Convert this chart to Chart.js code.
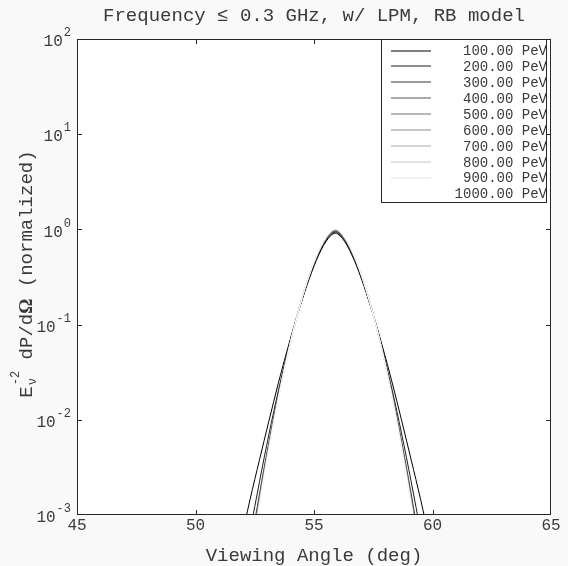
<!DOCTYPE HTML><html>
<head>
  <title>Viewing angle spectrum</title>
  <meta charset="utf-8">
  <style>
  html, body {
    margin: 0;
    padding: 0;
    background: #f9f9f9;
  }
  canvas {
    display: block;
  }
  </style>
  <script src="https://cdn.jsdelivr.net/npm/chart.js"></script>
</head>
<body>
  <canvas id="angle-chart" width="568" height="566"></canvas>
<script>
  // viewing angle samples (deg)
  var angles = [51.9, 52.3, 52.7, 53.1, 53.5, 53.9, 54.3, 54.7, 55.1, 55.5, 55.9,
                56.3, 56.7, 57.1, 57.5, 57.9, 58.3, 58.7, 59.1, 59.5, 59.9];

  var energies = ['100.00 PeV', '200.00 PeV', '300.00 PeV', '400.00 PeV', '500.00 PeV',
                  '600.00 PeV', '700.00 PeV', '800.00 PeV', '900.00 PeV', '1000.00 PeV'];

  var e100 = [0.00051, 0.00145, 0.0038, 0.00977, 0.0245, 0.0575, 0.126, 0.257, 0.473, 0.741, 0.912,
              0.741, 0.473, 0.257, 0.126, 0.0575, 0.0245, 0.00977, 0.0038, 0.00145, 0.00051];
  var e200 = [0.000186, 0.00066, 0.00224, 0.00708, 0.0204, 0.0537, 0.126, 0.266, 0.490, 0.759, 0.933,
              0.759, 0.490, 0.266, 0.126, 0.0537, 0.0204, 0.00708, 0.00224, 0.00066, 0.000186];
  var e300 = [0.0000955, 0.000423, 0.00167, 0.00589, 0.0186, 0.052, 0.128, 0.275, 0.506, 0.782, 0.955,
              0.782, 0.506, 0.275, 0.128, 0.052, 0.0186, 0.00589, 0.00167, 0.000423, 0.0000955];
  var e400 = [0.0000822, 0.000376, 0.00153, 0.00556, 0.0180, 0.0513, 0.127, 0.275, 0.509, 0.789, 0.966,
              0.789, 0.509, 0.275, 0.127, 0.0513, 0.0180, 0.00556, 0.00153, 0.000376, 0.0000822];
  var e500 = [0.0000776, 0.000359, 0.00148, 0.00543, 0.0178, 0.0511, 0.127, 0.277, 0.513, 0.796, 0.977,
              0.796, 0.513, 0.277, 0.127, 0.0511, 0.0178, 0.00543, 0.00148, 0.000359, 0.0000776];
  var e600 = [0.0000733, 0.000343, 0.00143, 0.00531, 0.0176, 0.0507, 0.127, 0.278, 0.516, 0.804, 0.986,
              0.804, 0.516, 0.278, 0.127, 0.0507, 0.0176, 0.00531, 0.00143, 0.000343, 0.0000733];
  var e700 = [0.0000692, 0.000327, 0.00138, 0.00519, 0.0174, 0.0504, 0.127, 0.279, 0.519, 0.809, 0.993,
              0.809, 0.519, 0.279, 0.127, 0.0504, 0.0174, 0.00519, 0.00138, 0.000327, 0.0000692];
  var e800 = [0.0000661, 0.000316, 0.00134, 0.0051, 0.0172, 0.0501, 0.127, 0.279, 0.521, 0.813, 1.0,
              0.813, 0.521, 0.279, 0.127, 0.0501, 0.0172, 0.0051, 0.00134, 0.000316, 0.0000661];
  var e900 = [0.0000638, 0.000308, 0.00131, 0.00501, 0.0170, 0.0499, 0.126, 0.280, 0.524, 0.818, 1.007,
              0.818, 0.524, 0.280, 0.126, 0.0499, 0.0170, 0.00501, 0.00131, 0.000308, 0.0000638];
  var e1000 = [0.0000617, 0.000302, 0.00129, 0.00492, 0.0168, 0.0495, 0.126, 0.280, 0.525, 0.822, 1.012,
               0.822, 0.525, 0.280, 0.126, 0.0495, 0.0168, 0.00492, 0.00129, 0.000302, 0.0000617];

  var xTicks = [50, 55, 60];
  var xTickLabels = [45, 50, 55, 60, 65];
  var yExps = [-3, -2, -1, 0, 1, 2];

  var series = [e100, e200, e300, e400, e500, e600, e700, e800, e900, e1000];
  var greys = [0, 28, 57, 85, 113, 142, 170, 198, 227, 255];

  var MONO = '"Liberation Mono", "Courier New", monospace';
  var INK = '#3a3a3a';

  var datasets = series.map(function (vals, i) {
    var g = greys[i];
    return {
      label: energies[i],
      data: vals.map(function (v, j) { return {x: angles[j], y: v}; }),
      borderColor: 'rgb(' + g + ',' + g + ',' + g + ')',
      borderWidth: 1,
      pointRadius: 0,
      fill: false,
      cubicInterpolationMode: 'monotone',
      order: series.length - 1 - i
    };
  });

  function drawYTitle(ctx) {
    var parts = [
      {t: 'E', f: '19px ' + MONO},
      {sub: 'ν', sup: '-2', f: '12px ' + MONO},
      {t: ' dP/d', f: '19px ' + MONO},
      {t: 'Ω', f: 'bold 19px "Liberation Serif", serif'},
      {t: ' (normalized)', f: '19px ' + MONO}
    ];
    var total = 0;
    parts.forEach(function (p) {
      ctx.font = p.f;
      if (p.t) {
        p.w = ctx.measureText(p.t).width;
      } else {
        p.w = Math.max(ctx.measureText(p.sub).width, ctx.measureText(p.sup).width) + 1;
      }
      total += p.w;
    });
    ctx.save();
    ctx.translate(32, 274);
    ctx.rotate(-Math.PI / 2);
    ctx.fillStyle = INK;
    ctx.textBaseline = 'alphabetic';
    ctx.textAlign = 'left';
    var x = -total / 2;
    parts.forEach(function (p) {
      ctx.font = p.f;
      if (p.t) {
        ctx.fillText(p.t, x, 0);
      } else {
        ctx.fillText(p.sub, x + 1, 4);
        ctx.fillText(p.sup, x + 1, -13);
      }
      x += p.w;
    });
    ctx.restore();
  }

  var decor = {
    id: 'decor',
    beforeDraw: function (chart) {
      var ctx = chart.ctx, a = chart.chartArea;
      ctx.save();
      ctx.fillStyle = '#f9f9f9';
      ctx.fillRect(0, 0, chart.width, chart.height);
      ctx.fillStyle = '#ffffff';
      ctx.fillRect(a.left, a.top, a.right - a.left, a.bottom - a.top);
      ctx.restore();
    },
    afterDraw: function (chart) {
      var ctx = chart.ctx, a = chart.chartArea;
      var xs = chart.scales.x, ys = chart.scales.y;
      ctx.save();
      ctx.strokeStyle = '#262626';
      ctx.lineWidth = 1;

      // inward ticks
      ctx.beginPath();
      xTicks.forEach(function (v) {
        var px = Math.round(xs.getPixelForValue(v)) + 0.5;
        ctx.moveTo(px, a.bottom); ctx.lineTo(px, a.bottom - 5);
        ctx.moveTo(px, a.top); ctx.lineTo(px, a.top + 5);
      });
      yExps.forEach(function (e) {
        if (e === yExps[0] || e === yExps[yExps.length - 1]) return;
        var py = Math.round(ys.getPixelForValue(Math.pow(10, e))) + 0.5;
        ctx.moveTo(a.left, py); ctx.lineTo(a.left + 5, py);
        ctx.moveTo(a.right, py); ctx.lineTo(a.right - 5, py);
      });
      ctx.stroke();

      // legend box
      var lx = 381, ly = 39, lw = 165, lh = 163;
      ctx.fillStyle = '#ffffff';
      ctx.fillRect(lx, ly, lw, lh);
      ctx.strokeRect(lx + 0.5, ly + 0.5, lw, lh);
      ctx.font = '14px ' + MONO;
      ctx.textAlign = 'right';
      ctx.textBaseline = 'middle';
      chart.data.datasets.forEach(function (ds, i) {
        var ry = 50.5 + i * 15.9;
        ctx.strokeStyle = ds.borderColor;
        ctx.beginPath();
        ctx.moveTo(391, Math.round(ry));
        ctx.lineTo(431, Math.round(ry));
        ctx.stroke();
        ctx.fillStyle = INK;
        ctx.fillText(ds.label, 547, ry + 1);
      });

      // frame
      ctx.strokeStyle = '#262626';
      ctx.strokeRect(a.left + 0.5, a.top + 0.5, a.right - a.left - 1, a.bottom - a.top - 1);

      // x tick labels
      ctx.fillStyle = INK;
      ctx.font = '16px ' + MONO;
      ctx.textAlign = 'center';
      ctx.textBaseline = 'middle';
      xTickLabels.forEach(function (v) {
        ctx.fillText(String(v), xs.getPixelForValue(v), 526);
      });

      // y tick labels 10^n
      yExps.forEach(function (e) {
        var py = ys.getPixelForValue(Math.pow(10, e));
        ctx.font = '12px ' + MONO;
        ctx.textAlign = 'right';
        ctx.textBaseline = 'middle';
        var ex = String(e);
        var ew = ctx.measureText(ex).width;
        ctx.fillText(ex, 71, py - 6);
        ctx.font = '16px ' + MONO;
        ctx.fillText('10', 71 - ew - 1, py + 3);
      });

      // titles
      ctx.font = '19px ' + MONO;
      ctx.textAlign = 'center';
      ctx.textBaseline = 'middle';
      ctx.fillText('Frequency \u2264 0.3 GHz, w/ LPM, RB model', (a.left + a.right) / 2, 16);
      ctx.fillText('Viewing Angle (deg)', (a.left + a.right) / 2, 556);
      drawYTitle(ctx);
      ctx.restore();
    }
  };

  var config = {
    type: 'line',
    data: {datasets: datasets},
    options: {
      responsive: false,
      animation: false,
      devicePixelRatio: 1,
      layout: {padding: {left: 77, right: 17, top: 39, bottom: 51}},
      plugins: {
        legend: {display: false},
        tooltip: {enabled: false}
      },
      scales: {
        x: {type: 'linear', display: false, min: 45, max: 65},
        y: {type: 'logarithmic', display: false, min: 0.001, max: 100}
      }
    },
    plugins: [decor]
  };

  var myChart = new Chart(document.getElementById('angle-chart'), config);
</script>
</body>
</html>
